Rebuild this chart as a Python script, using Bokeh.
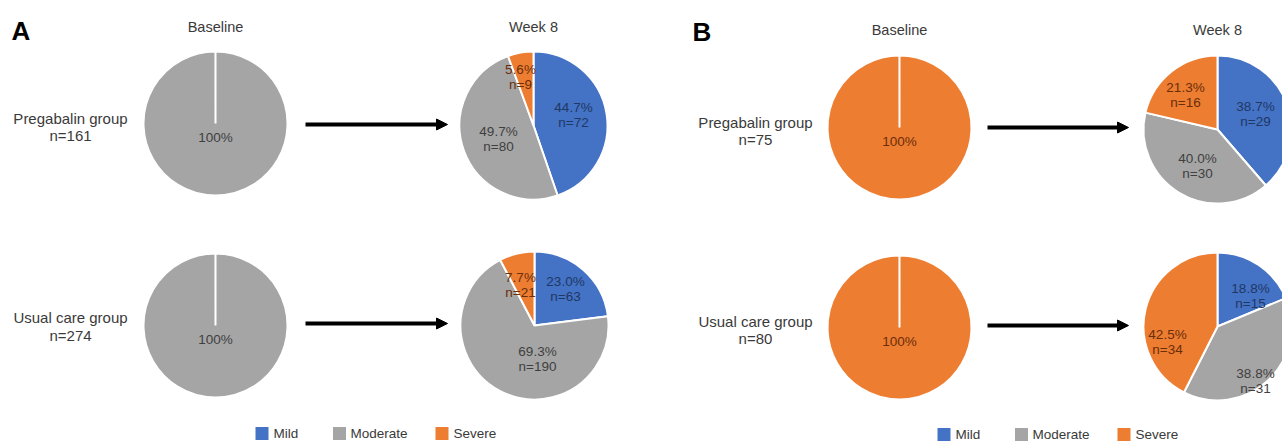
import math
from bokeh.plotting import figure
from bokeh.models import Range1d, Arrow, NormalHead, ColumnDataSource
from bokeh.core.properties import value
from bokeh.embed import file_html
from bokeh.resources import INLINE

# ---------------- data ----------------
categories = ["Mild", "Moderate", "Severe"]
groups = ["Pregabalin group", "Usual care group"]
panel_letters = ["A", "B"]
time_points = ["Baseline", "Week 8"]

a_group_n = [161, 274]
a_pregabalin_baseline = [0, 161, 0]
a_pregabalin_week8 = [72, 80, 9]
a_usual_baseline = [0, 274, 0]
a_usual_week8 = [63, 190, 21]

b_group_n = [75, 80]
b_pregabalin_baseline = [0, 0, 75]
b_pregabalin_week8 = [29, 30, 16]
b_usual_baseline = [0, 0, 80]
b_usual_week8 = [15, 31, 34]

# ---------------- style ----------------
slice_colors = ["#4472C4", "#A5A5A5", "#ED7D31"]
label_colors = ["#1F3864", "#3F3F3F", "#6B2E0A"]
FONT = value("Liberation Sans")
TXT = "#3a3a3a"

W, H = 1282, 443


def Y(ref_y):
    return H - ref_y


p = figure(width=W, height=H, x_range=Range1d(0, W), y_range=Range1d(0, H),
           output_backend="svg", toolbar_location=None, min_border=0)
p.axis.visible = False
p.grid.visible = False
p.outline_line_color = None
p.background_fill_color = "white"
p.border_fill_color = "white"

# ---------------- layout ----------------
panels = [
    dict(letter=panel_letters[0], letter_x=11, letter_y=30, title_y=26,
         group_x=70, group_y=[(118, 135), (317, 335)], n=a_group_n,
         base_c=[(215, 123), (215, 325)], wk_c=[(533, 125), (534, 325)],
         arrow_x=(305, 447), arrow_y=[124, 323],
         counts=[(a_pregabalin_baseline, a_pregabalin_week8), (a_usual_baseline, a_usual_week8)],
         lab_off=[[(40, -10.5), (-35, 13.5), (-13, -48.5)],
                  [(31, -36.5), (3, 33.5), (-14, -40.5)]],
         legend_x=[(261.5, 273), (339, 350), (441.5, 453)], legend_y=433),
    dict(letter=panel_letters[1], letter_x=692, letter_y=31, title_y=29,
         group_x=755, group_y=[(122, 139), (321, 338)], n=b_group_n,
         base_c=[(899, 127), (899, 327)], wk_c=[(1217, 129), (1217, 326)],
         arrow_x=(987, 1128), arrow_y=[127, 325],
         counts=[(b_pregabalin_baseline, b_pregabalin_week8), (b_usual_baseline, b_usual_week8)],
         lab_off=[[(38, -15.5), (-20, 36.5), (-32, -34.5)],
                  [(33, -30.5), (38, 54.5), (-50, 15)]],
         legend_x=[(943.5, 955), (1021, 1032), (1123.5, 1135)], legend_y=434),
]

R_BASE = 72
R_WEEK = 74


def draw_pie(cx, cy, counts, r):
    total = sum(counts)
    xs, ys, st, en, cols = [], [], [], [], []
    cum = 0.0
    for k, c in enumerate(counts):
        if c == 0:
            continue
        f0 = cum / total
        cum += c
        f1 = cum / total
        if f1 - f0 >= 1.0:
            f1 = f0 + 0.99985
        xs.append(cx)
        ys.append(Y(cy))
        st.append(math.pi / 2 - 2 * math.pi * f0)
        en.append(math.pi / 2 - 2 * math.pi * f1)
        cols.append(slice_colors[k])
    src = ColumnDataSource(dict(x=xs, y=ys, s=st, e=en, c=cols))
    p.wedge(x="x", y="y", radius=r, radius_units="screen", start_angle="s", end_angle="e",
            direction="clock", fill_color="c", line_color="white", line_width=2, source=src)


for pn in panels:
    # panel letter
    p.text(x=[pn["letter_x"]], y=[Y(pn["letter_y"])], text=[pn["letter"]], text_font=value("Liberation Sans"),
           text_font_style="bold", text_font_size="26px", text_color="black",
           text_align="left", text_baseline="middle")
    # column titles
    p.text(x=[pn["base_c"][0][0], pn["wk_c"][0][0]], y=[Y(pn["title_y"])] * 2, text=time_points,
           text_font=FONT, text_font_size="14.5px", text_color=TXT,
           text_align="center", text_baseline="middle")
    for row in range(2):
        base_counts, wk_counts = pn["counts"][row]
        # group labels
        gy1, gy2 = pn["group_y"][row]
        p.text(x=[pn["group_x"]] * 2, y=[Y(gy1), Y(gy2)],
               text=[groups[row], f"n={pn['n'][row]}"], text_font=FONT, text_font_size="15px",
               text_color=TXT, text_align="center", text_baseline="middle")
        # baseline pie
        bx, by = pn["base_c"][row]
        draw_pie(bx, by, base_counts, R_BASE)
        k_full = [i for i, c in enumerate(base_counts) if c > 0][0]
        p.text(x=[bx], y=[Y(by + 14)], text=["100%"], text_font=FONT, text_font_size="13.5px",
               text_color=label_colors[k_full], text_align="center", text_baseline="middle")
        # arrow
        ay = Y(pn["arrow_y"][row])
        p.add_layout(Arrow(end=NormalHead(size=11, fill_color="black", line_color="black", line_width=1),
                           x_start=pn["arrow_x"][0], y_start=ay, x_end=pn["arrow_x"][1], y_end=ay,
                           line_width=4, line_color="black"))
        # week 8 pie
        wx, wy = pn["wk_c"][row]
        draw_pie(wx, wy, wk_counts, R_WEEK)
        tot = sum(wk_counts)
        lx, ly1, ly2, t1, t2, tc = [], [], [], [], [], []
        for k, c in enumerate(wk_counts):
            dx, dy = pn["lab_off"][row][k]
            lx.append(wx + dx)
            ly1.append(Y(wy + dy - 7.5))
            ly2.append(Y(wy + dy + 7.5))
            t1.append(f"{100 * c / tot:.1f}%")
            t2.append(f"n={c}")
            tc.append(label_colors[k])
        p.text(x=lx + lx, y=ly1 + ly2, text=t1 + t2, text_color=tc + tc, text_font=FONT,
               text_font_size="13.5px", text_align="center", text_baseline="middle")
    # legend
    ly = Y(pn["legend_y"])
    p.scatter(x=[c[0] for c in pn["legend_x"]], y=[ly] * 3, marker="square", size=13,
              fill_color=slice_colors, line_color=None)
    p.text(x=[c[1] for c in pn["legend_x"]], y=[ly] * 3, text=categories, text_font=FONT,
           text_font_size="13.5px", text_color=TXT, text_align="left", text_baseline="middle")

open("out.html", "w").write(file_html(p, INLINE))
